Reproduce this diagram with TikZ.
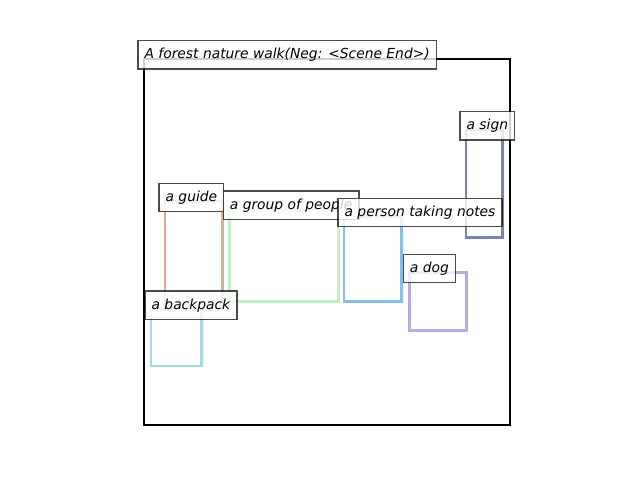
\documentclass[tikz,border=0pt]{standalone}
\usepackage{fontspec}
\setmainfont{DejaVu Sans}
\usepackage{xcolor}
\usetikzlibrary{positioning}
\definecolor{guidecol}{RGB}{222,170,150}
\definecolor{groupcol}{RGB}{195,240,195}
\definecolor{packcol}{RGB}{165,215,228}
\definecolor{notescol}{RGB}{135,190,230}
\definecolor{signcol}{RGB}{120,133,170}
\definecolor{dogcol}{RGB}{182,172,225}
\tikzset{
    region/.style={
        line width=1.9pt,
        line join=miter
    },
    lbl/.style={
        draw=black,
        draw opacity=0.7,
        fill=white,
        fill opacity=0.8,
        text opacity=1,
        anchor=base west,
        line width=0.95pt,
        inner xsep=4.8pt,
        inner ysep=0pt,
        text height=13.2pt,
        text depth=7.2pt,
        font=\itshape\fontsize{10pt}{12pt}\selectfont
    }
}

\begin{document}
\begin{tikzpicture}[x=0.254mm, y=-0.254mm]
    \useasboundingbox (0,0) rectangle (640,480);
    % Frame
    \draw[line width=1.6pt] (144,59) rectangle (510,425);

    % Regions
    \draw[region, guidecol] (165,201.7) rectangle (222.7,309.3);
    \draw[region, groupcol] (229.3,209.3) rectangle (338.3,301.7);
    \draw[region, packcol] (151,309.3) rectangle (201.7,366);
    \draw[region, notescol] (344,216.7) rectangle (401.7,301.7);
    \draw[region, signcol] (466,130) rectangle (502.7,237.3);
    \draw[region, dogcol] (409.3,272.7) rectangle (466.7,330.7);

    % Labels
    \node[lbl] (title) at (137.3,59) {A forest nature walk(Neg: <Scene End>)};
    \node[lbl] (guide) at (158.3,201.7) {a guide};
    \node[lbl] (group) at (222.6,209.3) {a group of people};
    \node[lbl] (pack) at (144.3,309.3) {a backpack};
    \node[lbl] (notes) at (337.3,216.7) {a person taking notes};
    \node[lbl] (sign) at (459.3,130) {a sign};
    \node[lbl] (dog) at (402.6,272.7) {a dog};
\end{tikzpicture}
\end{document}
